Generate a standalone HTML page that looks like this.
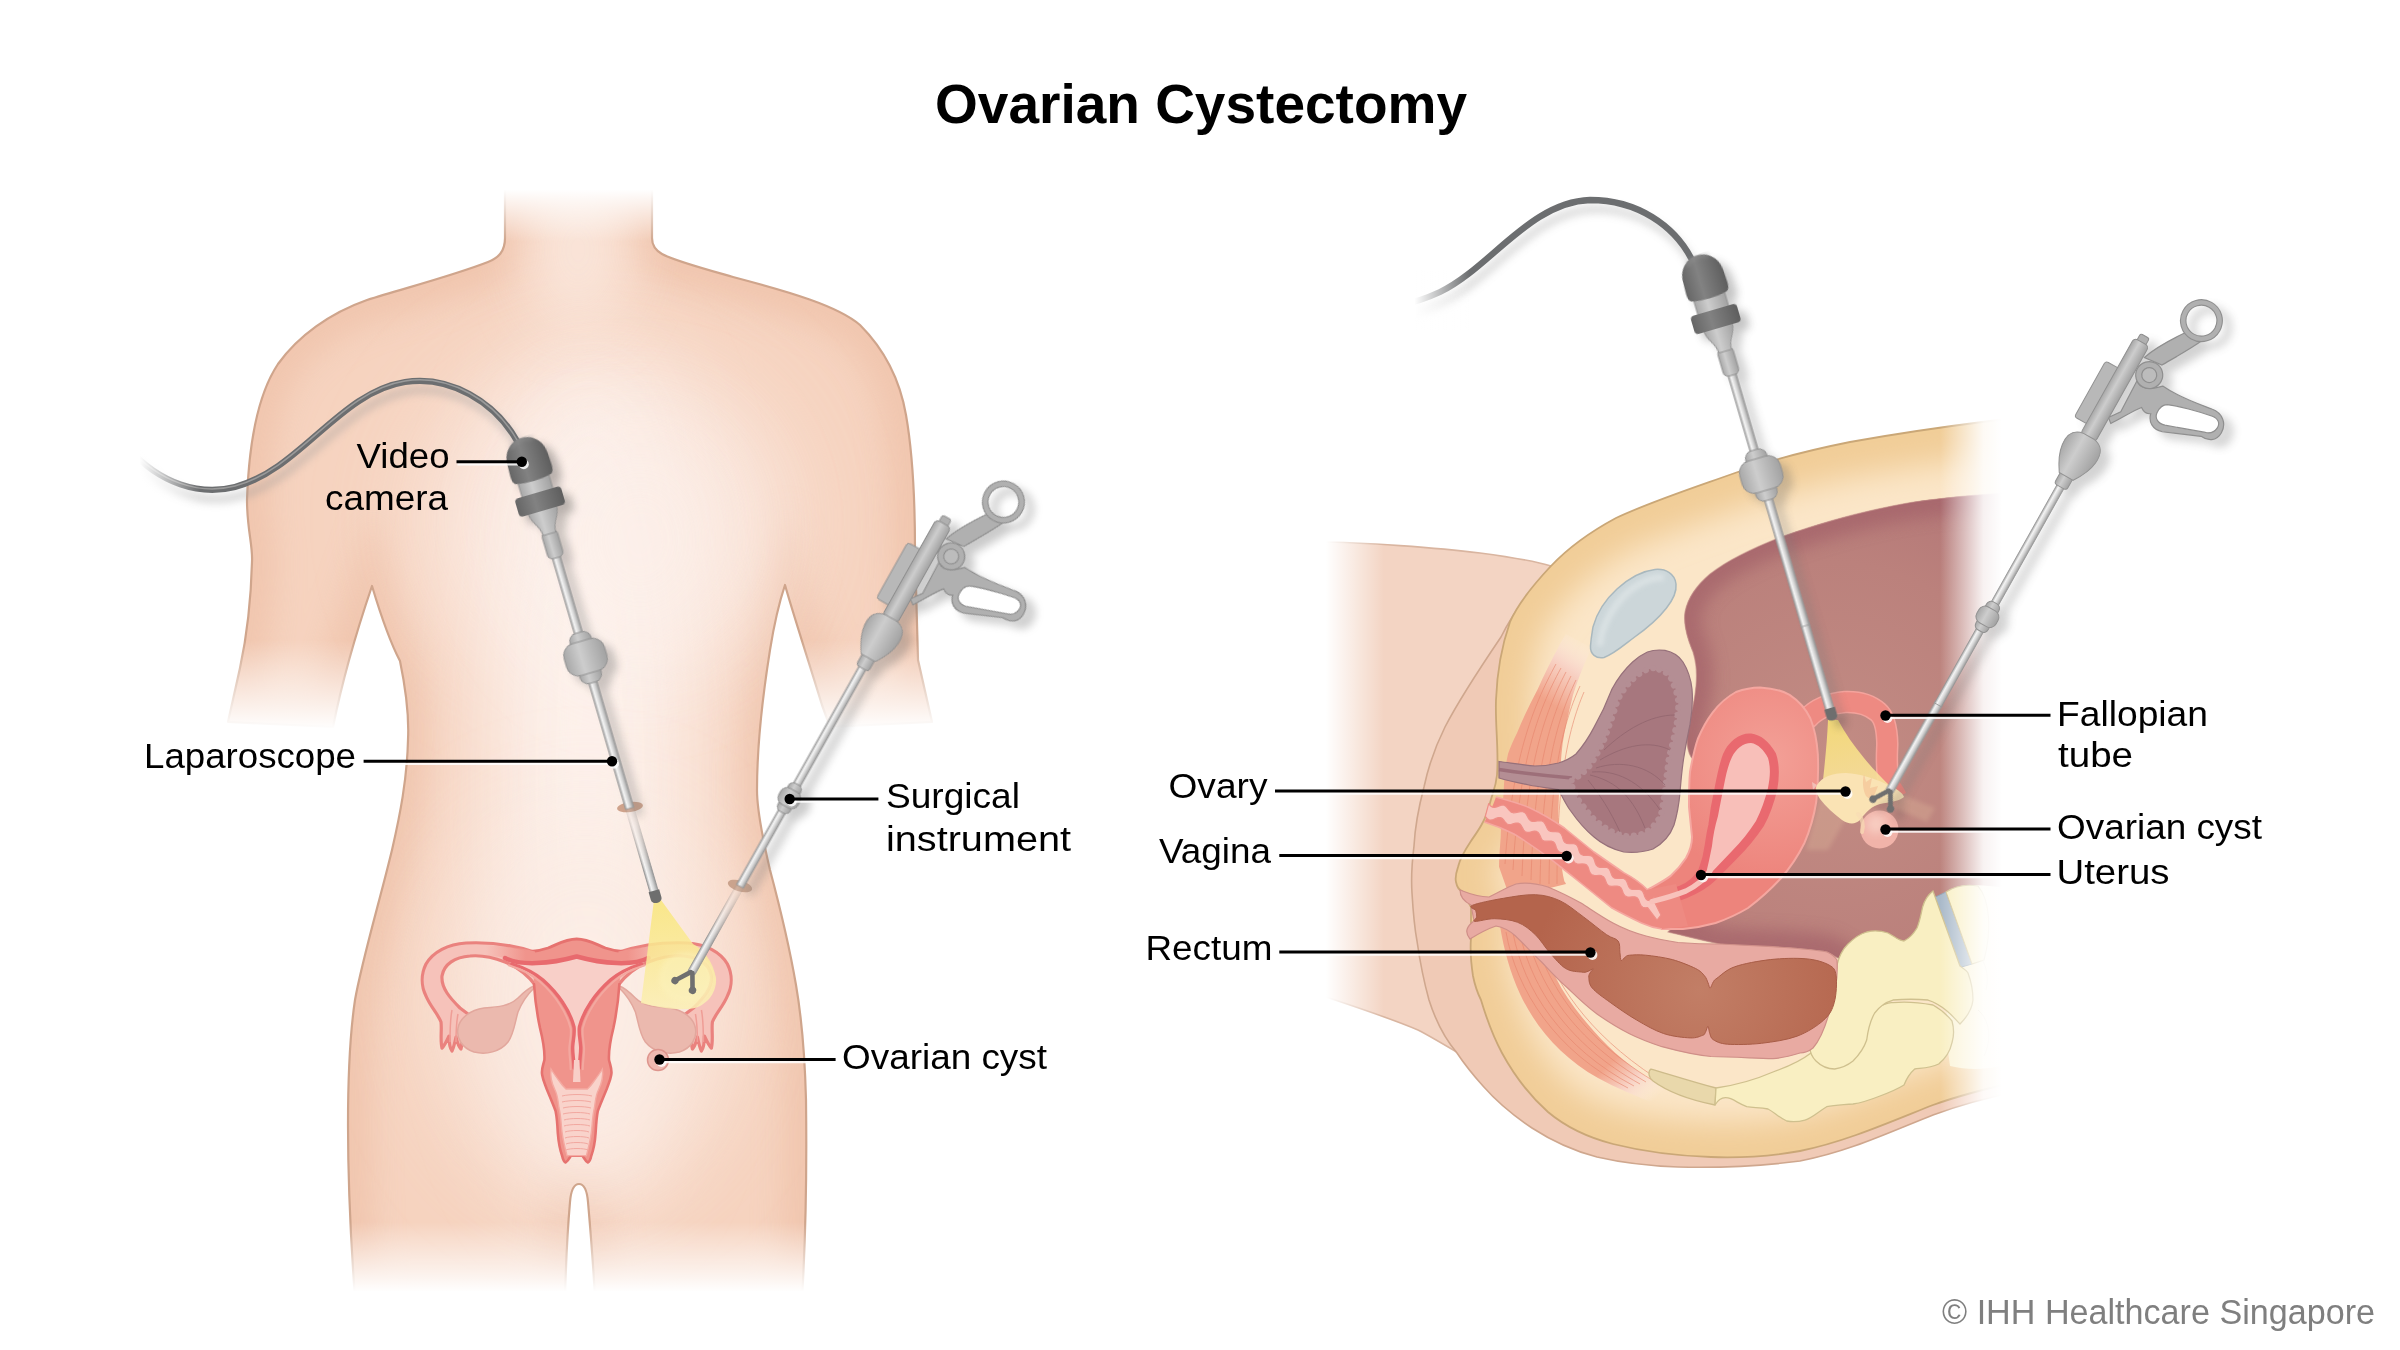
<!DOCTYPE html>
<html><head><meta charset="utf-8"><title>Ovarian Cystectomy</title>
<style>
html,body{margin:0;padding:0;background:#fff;}
body{width:2400px;height:1350px;overflow:hidden;font-family:"Liberation Sans",sans-serif;}
svg{display:block}
text{font-family:"Liberation Sans",sans-serif;}
</style></head><body>
<svg width="2400" height="1350" viewBox="0 0 2400 1350">
<defs>
  <filter id="b2" x="-20%" y="-20%" width="140%" height="140%"><feGaussianBlur stdDeviation="2"/></filter>
  <filter id="b4" x="-30%" y="-30%" width="160%" height="160%"><feGaussianBlur stdDeviation="4"/></filter>
  <filter id="b8" x="-30%" y="-30%" width="160%" height="160%"><feGaussianBlur stdDeviation="8"/></filter>
  <filter id="b15" x="-40%" y="-40%" width="180%" height="180%"><feGaussianBlur stdDeviation="15"/></filter>
  <filter id="b30" x="-50%" y="-50%" width="200%" height="200%"><feGaussianBlur stdDeviation="30"/></filter>
  <filter id="b50" x="-60%" y="-60%" width="220%" height="220%"><feGaussianBlur stdDeviation="50"/></filter>

  <linearGradient id="shaftG" x1="0" x2="1" y1="0" y2="0">
    <stop offset="0" stop-color="#a6a6a6"/><stop offset="0.3" stop-color="#f4f4f4"/><stop offset="0.6" stop-color="#d6d6d6"/><stop offset="1" stop-color="#9a9a9a"/>
  </linearGradient>
  <linearGradient id="metalG" x1="0" x2="1" y1="0" y2="0">
    <stop offset="0" stop-color="#a8a8a8"/><stop offset="0.4" stop-color="#cdcdcd"/><stop offset="1" stop-color="#a2a2a2"/>
  </linearGradient>
  <linearGradient id="darkG" x1="0" x2="1" y1="0" y2="0">
    <stop offset="0" stop-color="#666"/><stop offset="0.4" stop-color="#828282"/><stop offset="1" stop-color="#5e5e5e"/>
  </linearGradient>
  <linearGradient id="fadeUp" x1="0" x2="0" y1="0" y2="1"><stop offset="0" stop-color="#fff" stop-opacity="1"/><stop offset="1" stop-color="#fff" stop-opacity="0"/></linearGradient>
  <linearGradient id="fadeDown" x1="0" x2="0" y1="0" y2="1"><stop offset="0" stop-color="#fff" stop-opacity="0"/><stop offset="1" stop-color="#fff" stop-opacity="1"/></linearGradient>
  <linearGradient id="fadeL" x1="0" x2="1" y1="0" y2="0"><stop offset="0" stop-color="#fff" stop-opacity="1"/><stop offset="1" stop-color="#fff" stop-opacity="0"/></linearGradient>
  <linearGradient id="fadeR" x1="0" x2="1" y1="0" y2="0"><stop offset="0" stop-color="#fff" stop-opacity="0"/><stop offset="1" stop-color="#fff" stop-opacity="1"/></linearGradient>

  <linearGradient id="lapFadeGrad" x1="0" x2="0" y1="386" y2="450" gradientUnits="userSpaceOnUse"><stop offset="0" stop-color="#fff" stop-opacity="0.12"/><stop offset="1" stop-color="#fff" stop-opacity="1"/></linearGradient>
  <mask id="lapFadeMask" maskUnits="userSpaceOnUse" x="-20" y="380" width="40" height="120"><rect x="-20" y="380" width="40" height="120" fill="url(#lapFadeGrad)"/></mask>
  <linearGradient id="surgFadeGrad" x1="0" x2="0" y1="-96" y2="-35" gradientUnits="userSpaceOnUse"><stop offset="0" stop-color="#fff" stop-opacity="0.12"/><stop offset="1" stop-color="#fff" stop-opacity="1"/></linearGradient>
  <mask id="surgFadeMask" maskUnits="userSpaceOnUse" x="-30" y="-110" width="60" height="150"><rect x="-30" y="-110" width="60" height="150" fill="url(#surgFadeGrad)"/></mask>
  <!-- LAPAROSCOPE local coords: origin = camera top, axis +y -->
  <g id="lapUpper">
    <rect x="-4.2" y="118" width="8.4" height="268" fill="url(#shaftG)" stroke="#969696" stroke-width="0.8"/>
    <!-- trocar -->
    <rect x="-11" y="203" width="22" height="52" rx="8" fill="url(#metalG)" stroke="#929292" stroke-width="1"/>
    <rect x="-21" y="212" width="42" height="33" rx="12" fill="url(#metalG)" stroke="#929292" stroke-width="1"/>
    <!-- connector -->
    <rect x="-8" y="97" width="16" height="28" rx="5" fill="url(#metalG)" stroke="#929292" stroke-width="1"/>
    <!-- funnel -->
    <path d="M-15,72 L15,72 C15,86 7,88 6.5,100 L-6.5,100 C-7,88 -15,86 -15,72 Z" fill="url(#metalG)" stroke="#929292" stroke-width="1"/>
    <!-- light cyl -->
    <rect x="-16" y="34" width="32" height="30" rx="3" fill="url(#metalG)" stroke="#929292" stroke-width="1"/>
    <!-- dark ring -->
    <rect x="-24" y="57" width="48" height="19" rx="4" fill="url(#darkG)"/>
    <!-- dome -->
    <path d="M-18,43 C-21,42 -21.5,38 -21.5,34 L-21,22 C-20,-7 20,-7 21,22 L21.5,34 C21.5,38 21,42 18,43 C8,45.5 -8,45.5 -18,43 Z" fill="url(#darkG)"/><path d="M-13,8 C-8,1 4,-1 11,4" fill="none" stroke="#9a9a9a" stroke-width="3" opacity="0.5" filter="url(#b2)"/>
  </g>
  <g id="lapLower">
    <rect x="-4.2" y="384" width="8.4" height="90" fill="url(#shaftG)" stroke="#969696" stroke-width="0.8"/>
    <path d="M-5.5,472 L5.5,472 L5.5,480 C5.5,486 -5.5,486 -5.5,480 Z" fill="#6e6e6e"/>
  </g>

  <!-- SURGICAL INSTRUMENT local coords: origin = jaw junction, axis -y toward handle -->
  <g id="surgUpper">
    <rect x="-4" y="-352" width="8" height="256" fill="url(#shaftG)" stroke="#969696" stroke-width="0.8"/>
    <!-- small trocar -->
    <rect x="-7" y="-213" width="14" height="32" rx="5" fill="url(#metalG)" stroke="#929292" stroke-width="1"/>
    <rect x="-11" y="-206" width="22" height="18" rx="7" fill="url(#metalG)" stroke="#929292" stroke-width="1"/>
    <!-- plate -->
    <rect x="-22" y="-478" width="17" height="64" rx="3" fill="#b8b8b8" stroke="#929292" stroke-width="1"/>
    <!-- fixed handle body + loop -->
    <path d="M8,-430 L16,-441 L15,-476 C22,-470 30,-474 40,-484 C60,-482 80,-486 94,-488 C106,-490 114,-482 114,-472 C114,-462 106,-458 98,-459 L62,-444 C52,-441 45,-446 43,-454 C40,-452 36,-452 32,-455 C26,-448 20,-436 13,-426 Z" fill="#b0b0b0" stroke="#8f8f8f" stroke-width="1.2"/>
    <path d="M53,-470 C62,-474 84,-479.5 98,-482 C105,-483 108.5,-479 108,-474 C107.5,-469 105,-466 100,-464.5 L61,-451 C54,-449 48.5,-452 48,-458 C47.7,-464 49.5,-468 53,-470 Z" fill="#fff" stroke="#8f8f8f" stroke-width="1.2"/>
    <!-- ring arm -->
    <path d="M10,-500 C14,-512 24,-528 33,-541 L52,-543 C46,-530 36,-514 29,-502 Z" fill="#b0b0b0" stroke="#8f8f8f" stroke-width="1.2"/>
    <circle cx="41.7" cy="-560" r="18.2" fill="none" stroke="#8f8f8f" stroke-width="6.6"/>
    <circle cx="41.7" cy="-560" r="18.2" fill="none" stroke="#b0b0b0" stroke-width="4.4"/>
    <!-- pivot -->
    <circle cx="22.8" cy="-487" r="13.5" fill="#b0b0b0" stroke="#8f8f8f" stroke-width="1.2"/>
    <circle cx="22.8" cy="-487" r="7.5" fill="#bcbcbc" stroke="#8f8f8f" stroke-width="1.2"/>
    <!-- barrel -->
    <rect x="-5" y="-519" width="10" height="10" rx="2" fill="#b0b0b0" stroke="#8f8f8f" stroke-width="1"/>
    <rect x="-8.5" y="-512" width="17" height="110" rx="4" fill="url(#metalG)" stroke="#8f8f8f" stroke-width="1"/>
    <!-- bulb -->
    <rect x="-7" y="-362" width="14" height="16" rx="3" fill="url(#metalG)" stroke="#929292" stroke-width="1"/>
    <path d="M-6,-404 L6,-404 C18,-402 20,-394 19,-384 C18,-374 12,-364 8,-358 L-8,-358 C-12,-364 -18,-374 -19,-384 C-20,-394 -18,-402 -6,-404 Z" fill="url(#metalG)" stroke="#929292" stroke-width="1"/>
  </g>
  <g id="surgLower">
    <rect x="-4" y="-98" width="8" height="101" fill="url(#shaftG)" stroke="#969696" stroke-width="0.8"/>
    <path d="M-1,3 L-10,17" stroke="#6f6f6f" stroke-width="4.6" stroke-linecap="round" fill="none"/>
    <path d="M1,3 L9,17" stroke="#6f6f6f" stroke-width="4.6" stroke-linecap="round" fill="none"/>
    <circle cx="-10.5" cy="18" r="3.7" fill="#6f6f6f"/><circle cx="9.5" cy="18" r="3.7" fill="#6f6f6f"/>
  </g>
</defs>
<!-- ===== LEFT PANEL: body ===== -->
<defs>
  <path id="bodyL" d="M505,185 L505,238 C505,252 498,258 488,262 C452,276 405,288 367,300 C330,313 298,336 278,364 C258,394 249,440 247,500 C247,530 253,545 252,562 C251,600 246,640 240,668 L228,722 L333,727 C340,692 355,636 372,586 C378,606 390,642 400,661 C406,690 409,720 408,740 C407,780 400,815 392,850 C380,900 362,960 355,1000 C349,1040 348,1090 348,1125 C348,1170 350,1230 355,1298 L565,1298 C566,1260 568,1225 570,1202 C571,1190 574,1184 579,1184 C584,1184 587,1190 588,1202 C590,1225 593,1260 595,1298 L802,1298 C805,1250 807,1180 806,1100 C805,1060 802,1020 796,985 C790,950 778,900 770,870 C763,840 757,810 757,790 C757,750 762,700 770,650 C774,625 780,600 785,585 C792,610 805,650 822,705 L830,727 L932,722 L918,660 C917,620 916,580 915,550 C915,500 913,455 906,415 C900,380 885,350 860,325 C838,306 790,292 733,277 C705,269 672,260 662,254 C655,250 652,245 652,238 L652,185 Z"/>
  <clipPath id="bodyLclip"><use href="#bodyL"/></clipPath>
</defs>
<g>
  <use href="#bodyL" fill="#f6d3bf"/>
  <g clip-path="url(#bodyLclip)">
    <use href="#bodyL" fill="none" stroke="#efc2aa" stroke-width="46" filter="url(#b15)" opacity="0.8"/>
    <ellipse cx="605" cy="520" rx="190" ry="170" fill="#fbeae2" filter="url(#b50)" opacity="0.8"/>
    <ellipse cx="590" cy="780" rx="105" ry="430" fill="#fdf3ee" filter="url(#b50)" opacity="0.95"/>
    <ellipse cx="640" cy="540" rx="100" ry="120" fill="#fcefe9" filter="url(#b50)" opacity="0.6"/>
    <ellipse cx="578" cy="250" rx="50" ry="80" fill="#fbeae1" filter="url(#b30)" opacity="0.8"/>
    <ellipse cx="585" cy="1000" rx="150" ry="190" fill="#fbebe3" filter="url(#b50)" opacity="0.7"/>
  </g>
  <use href="#bodyL" fill="none" stroke="#cfa58c" stroke-width="2.2" stroke-linejoin="round"/>
  <!-- fades -->
  <rect x="480" y="170" width="200" height="20" fill="#fff"/><rect x="480" y="189.5" width="200" height="52" fill="url(#fadeUp)"/>
  <rect x="200" y="640" width="190" height="90" fill="url(#fadeDown)"/>
  <rect x="790" y="640" width="170" height="90" fill="url(#fadeDown)"/>
  <rect x="330" y="1222" width="500" height="70" fill="url(#fadeDown)"/><rect x="330" y="1291.5" width="500" height="12" fill="#fff"/>
</g>
<!-- ===== LEFT PANEL: uterus front view ===== -->
<defs>
  <linearGradient id="cornuG" x1="486" x2="526" y1="0" y2="0" gradientUnits="userSpaceOnUse"><stop offset="0" stop-color="#f0948c" stop-opacity="0"/><stop offset="1" stop-color="#f0948c" stop-opacity="1"/></linearGradient>
  <linearGradient id="coneL" x1="657" y1="900" x2="675" y2="1008" gradientUnits="userSpaceOnUse"><stop offset="0" stop-color="#f9e67c"/><stop offset="0.5" stop-color="#faea96"/><stop offset="1" stop-color="#fbefb4"/></linearGradient>
  <g id="tubeL">
    <path d="M536,986 C530,978 520,968 505,962 C492,957 480,955 470,956 C455,957 444,964 442,976 C441,988 450,998 460,1008 L468,1014 C466,1020 462,1028 462,1036 C462,1042 462,1046 461,1049 C458,1046 457,1041 456,1037 C455,1042 454,1047 452,1051 C449,1047 449,1041 449,1036 C447,1040 445,1045 442,1048 C440,1040 442,1030 441,1022 C438,1014 430,1006 426,996 C421,986 421,974 426,964 C433,952 448,944 466,943 C486,942 510,944 534,952 Z" fill="#f6c2ba" stroke="#ea827e" stroke-width="3.2" stroke-linejoin="round"/>
    <path d="M452,1010 C450,1020 450,1032 450,1042 M458,1014 C456,1024 456,1034 456,1042" fill="none" stroke="#ef9d96" stroke-width="1.5"/>
    <!-- ovary -->
    <path d="M534,988 C528,994 522,1002 518,1012 C515,1022 514,1034 508,1042 C500,1052 486,1055 474,1052 C462,1048 456,1038 458,1028 C460,1018 470,1010 484,1008 C498,1007 510,1006 518,998 C524,992 528,988 534,986 Z" fill="#ebb9ae" stroke="#e2a79d" stroke-width="1.5"/>
  </g>
</defs>
<g>
  <use href="#tubeL"/>
  <use href="#tubeL" transform="translate(1153.4,0) scale(-1,1)"/>
  <!-- cyst -->
  <circle cx="658" cy="1060" r="10.5" fill="#efb9b0" stroke="#de968e" stroke-width="1.5"/>
  <!-- uterus body -->
  <path d="M576.7,939 C566,939 558,944 548,948 C542,950 537,951 533,952 L534,986 C535,1000 537,1014 540,1028 C543,1040 545,1050 544.4,1060 C543,1066 541,1070 542.2,1075 C543,1080 545,1084 546.7,1089 C550,1097 553,1104 555.6,1111 C557,1118 557.5,1126 557.8,1133 C558.5,1142 560,1150 562.2,1156 C563,1160 564.5,1162 565.6,1162.5 C568,1161 569.5,1158 571,1155.6 L582.4,1155.6 C584,1158 585.5,1161 587.8,1162.5 C589,1162 590.4,1160 591.2,1156 C593.4,1150 595,1142 595.6,1133 C596,1126 596.4,1118 597.8,1111 C600.4,1104 603.4,1097 606.7,1089 C608.4,1084 610.4,1080 611.2,1075 C612.4,1070 610.4,1066 609,1060 C608.4,1050 610.4,1040 613.4,1028 C616.4,1014 618.4,1000 619.4,986 L620.4,952 C616.4,951 611.4,950 605.4,948 C595.4,944 587.4,939 576.7,939 Z" fill="#f0948c"/>
  <path d="M531,951.5 C537,951 542,950 548,948 C558,944 566,939 576.7,939 C587.4,939 595.4,944 605.4,948 C611.4,950 616.4,951 622.4,951.5" fill="none" stroke="#e6726f" stroke-width="2.8" stroke-linecap="round"/>
  <path d="M534,984 C535,1000 537,1014 540,1028 C543,1040 545,1050 544.4,1060 C543,1066 541,1070 542.2,1075 C543,1080 545,1084 546.7,1089 C550,1097 553,1104 555.6,1111 C557,1118 557.5,1126 557.8,1133 C558.5,1142 560,1150 562.2,1156 C563,1160 564.5,1162 565.6,1162.5 C568,1161 569.5,1158 571,1155.6 L582.4,1155.6 C584,1158 585.5,1161 587.8,1162.5 C589,1162 590.4,1160 591.2,1156 C593.4,1150 595,1142 595.6,1133 C596,1126 596.4,1118 597.8,1111 C600.4,1104 603.4,1097 606.7,1089 C608.4,1084 610.4,1080 611.2,1075 C612.4,1070 610.4,1066 609,1060 C608.4,1050 610.4,1040 613.4,1028 C616.4,1014 618.4,1000 619.4,984" fill="none" stroke="#e6726f" stroke-width="2.6" stroke-linejoin="round" stroke-linecap="round"/>
  <g id="cornuL">
    <path d="M535,951.5 L535,964 C522,961 505,957 486,955.5 L484,945.5 C504,945.5 522,948.5 535,951.5 Z" fill="url(#cornuG)"/>
  </g>
  <use href="#cornuL" transform="translate(1153.4,0) scale(-1,1)"/>
  <!-- cavity -->
  <path d="M512,964 C525,968 536,974 543,980 C552,988 558,995 563,1003 C569,1012 572,1019 574,1027 C575,1034 573,1040 572.7,1047 C572.5,1054 574,1060 574,1068 L579.4,1068 C579.4,1060 580.9,1054 580.7,1047 C580.4,1040 578.4,1034 579.4,1027 C581.4,1019 584.4,1012 590.4,1003 C595.4,995 601.4,988 610.4,980 C617.4,974 628.4,968 641.4,964 C620,966 600,958 576.7,957 C553,958 533,966 512,964 Z" fill="#f8cfc8"/>
  <!-- endometrium dark lines -->
  <path d="M505,958 C520,966 550,964 576.7,956.5 C603.4,964 633.4,966 648.4,958" fill="none" stroke="#e86a6e" stroke-width="4.5" stroke-linecap="round"/>
  <path d="M512,964 C525,968 536,974 543,980 C552,988 558,995 563,1003 C569,1012 572,1019 574,1027 C575,1034 573,1040 572.7,1047 C572.5,1054 574,1060 574,1068" fill="none" stroke="#e86a6e" stroke-width="3.4" stroke-linecap="round"/>
  <path d="M641.4,964 C628.4,968 617.4,974 610.4,980 C601.4,988 595.4,995 590.4,1003 C584.4,1012 581.4,1019 579.4,1027 C578.4,1034 580.4,1040 580.7,1047 C580.9,1054 579.4,1060 579.4,1068" fill="none" stroke="#e86a6e" stroke-width="3.4" stroke-linecap="round"/>
  <path d="M512,964 C525,968 536,974 543,980 C552,988 558,995 563,1003 C569,1012 572,1019 574,1027 C575,1034 573,1040 572.7,1047 C572.5,1054 574,1060 574,1068" fill="none" stroke="#f3a8a0" stroke-width="2" stroke-linecap="round" transform="translate(-3.4,1.2)"/>
  <path d="M641.4,964 C628.4,968 617.4,974 610.4,980 C601.4,988 595.4,995 590.4,1003 C584.4,1012 581.4,1019 579.4,1027 C578.4,1034 580.4,1040 580.7,1047 C580.9,1054 579.4,1060 579.4,1068" fill="none" stroke="#f3a8a0" stroke-width="2" stroke-linecap="round" transform="translate(3.4,1.2)"/>
  <!-- cervical canal -->
  <path d="M574,1060 L579.4,1060 L580.5,1082 L573,1082 Z" fill="#f8cfc8"/>
  <!-- vagina -->
  <path d="M551,1069 C554,1074 557,1078 560,1082 C562,1085 564,1087 566,1089 L587.4,1089 C589.4,1087 591.4,1085 593.4,1082 C596.4,1078 599.4,1074 602.4,1069 C603.4,1076 601.4,1084 598.4,1090 C595.4,1096 595.4,1102 594.4,1108 C592.4,1116 592.4,1124 591.4,1132 C590.4,1140 588.4,1148 586.4,1155.6 L567,1155.6 C565,1148 563,1140 562,1132 C561,1124 561,1116 559,1108 C558,1102 558,1096 555,1090 C552,1084 550,1076 551,1069 Z" fill="#f9d3cb" stroke="#f4aaa2" stroke-width="1.4"/>
  <g fill="none" stroke="#f2a8a0" stroke-width="1">
    <path d="M562,1096 C570,1094 584,1094 592,1096"/><path d="M562,1102 C570,1100 584,1100 591,1102"/><path d="M563,1108 C570,1106 584,1106 591,1108"/><path d="M563,1114 C570,1112 584,1112 590,1114"/><path d="M564,1120 C570,1118 584,1118 590,1120"/><path d="M564,1126 C570,1124 584,1124 590,1126"/><path d="M565,1132 C570,1130 584,1130 589,1132"/><path d="M565,1138 C570,1136 584,1136 589,1138"/><path d="M566,1144 C570,1142 584,1142 588,1144"/><path d="M566,1150 C570,1148 584,1148 588,1150"/>
  </g>
  <!-- light cone -->
  <path d="M654,900 L661,900 L693,944 C704,950 713,962 716,978 C717,992 708,1004 695,1008 C680,1011 660,1008 641,1003 Z" fill="url(#coneL)" opacity="0.86"/>
  <ellipse cx="686" cy="977" rx="27" ry="25" fill="#fcf3bd" opacity="0.45" filter="url(#b2)"/>
</g>
<!-- ===== LEFT PANEL: instruments ===== -->
<g>
  <!-- cable shadow + cable -->
  <path d="M517,441 C495,402 450,375 405,382 C340,392 300,470 235,487 C200,496 160,484 128,448" fill="none" stroke="#9a9a9a" stroke-width="7" opacity="0.45" filter="url(#b4)" transform="translate(4,9)"/>
  <path d="M517,441 C495,402 450,375 405,382 C340,392 300,470 235,487 C200,496 160,484 128,448" fill="none" stroke="#6c6e70" stroke-width="6.3" stroke-linecap="round"/>
  <path d="M517,441 C495,402 450,375 405,382 C340,392 300,470 235,487 C200,496 160,484 128,448" fill="none" stroke="#9a9a9a" stroke-width="1.5" stroke-linecap="round" transform="translate(0,-1)"/>
  <rect x="110" y="420" width="30" height="100" fill="#fff"/><rect x="139.5" y="420" width="60" height="100" fill="url(#fadeL)"/>
  <!-- skin entry marks -->
  <ellipse cx="630" cy="807" rx="13" ry="5" fill="#cfa38c" transform="rotate(-8 630 807)"/>
  <ellipse cx="740" cy="886" rx="12.5" ry="5.5" fill="#caa38d" transform="rotate(16 740 886)"/>
  <!-- shadows -->
  <g opacity="0.35" filter="url(#b4)" transform="translate(9,7)">
    <use href="#lapUpper" transform="translate(521.4,437.8) rotate(-16.3)" style="filter:grayscale(1) brightness(0.6)"/>
    <use href="#surgUpper" transform="translate(693,970) rotate(29.3)" style="filter:grayscale(1) brightness(0.6)"/>
  </g>
  <g transform="translate(521.4,437.8) rotate(-16.3)"><g mask="url(#lapFadeMask)"><use href="#lapLower"/></g></g>
  <use href="#lapUpper" transform="translate(521.4,437.8) rotate(-16.3)"/>
  <g transform="translate(693,970) rotate(29.3)"><g mask="url(#surgFadeMask)"><use href="#surgLower"/></g></g>
  <use href="#surgUpper" transform="translate(693,970) rotate(29.3)"/>
</g>
<!-- ===== RIGHT PANEL: body cross-section ===== -->
<defs>
  <path id="fatR" d="M2020,418 L1990,421 C1950,426 1900,433 1850,442 C1800,452 1765,462 1735,473 C1690,489 1650,502 1616,518 C1590,532 1568,548 1551,566 C1535,583 1518,603 1510,622 C1502,645 1497,672 1496,700 C1495,725 1499,750 1497,775 C1496,785 1494,790 1492,796 C1489,806 1487,815 1483,822 C1479,830 1475,835 1471,841 C1465,850 1460,858 1458,867 C1456,873 1455,878 1456,882 C1457,887 1459,890 1462,891 L1471,907 L1471,938 C1470,950 1471,963 1473,976 C1475,986 1478,994 1481,1000 C1487,1020 1494,1038 1502,1053 C1514,1075 1530,1096 1548,1112 C1567,1128 1590,1138 1613,1144 C1645,1152 1680,1156 1711,1157 C1740,1158 1772,1156 1800,1151 C1845,1142 1890,1122 1933,1105 C1955,1097 1980,1090 2020,1081 Z"/>
  <clipPath id="fatRclip"><use href="#fatR"/></clipPath>
  <clipPath id="cavRclip"><use href="#cavR"/></clipPath>
  <path id="cavR" d="M2020,492 L1990,494 C1950,497 1920,500 1892,506 C1852,514 1815,525 1785,535.5 C1755,547 1728,560 1710,574 C1697,585 1688,597 1685,612 C1683,625 1688,640 1693,652 C1697,665 1697,675 1696,686 C1695,700 1691,714 1688,728 C1686,740 1687,750 1691,757 L1730,800 L1700,900 L1668,932 C1685,936 1700,940 1720,944 C1740,946 1755,946 1773,947 C1792,948 1812,949 1827,952 L1845,962 L1960,1010 L2020,1000 Z"/>
  <linearGradient id="thighFade" x1="1326" x2="1384" y1="0" y2="0" gradientUnits="userSpaceOnUse"><stop offset="0" stop-color="#fff" stop-opacity="1"/><stop offset="1" stop-color="#fff" stop-opacity="0"/></linearGradient>
  <linearGradient id="rightFade" x1="1940" x2="2002" y1="0" y2="0" gradientUnits="userSpaceOnUse"><stop offset="0" stop-color="#fff" stop-opacity="0"/><stop offset="0.35" stop-color="#fff" stop-opacity="0.45"/><stop offset="0.7" stop-color="#fff" stop-opacity="0.9"/><stop offset="1" stop-color="#fff" stop-opacity="1"/></linearGradient>
  <radialGradient id="cavG" cx="1830" cy="760" r="330" gradientUnits="userSpaceOnUse"><stop offset="0" stop-color="#c28c84"/><stop offset="0.6" stop-color="#bb817c"/><stop offset="1" stop-color="#b17476"/></radialGradient>
</defs>
<g>
  <!-- thigh -->
  <path d="M1320,542 C1360,542 1440,548 1480,553 C1510,557 1535,561 1551,566 L1560,800 L1470,1060 C1450,1048 1430,1036 1418,1030 C1390,1018 1350,1005 1320,995 Z" fill="#f3d4c3" stroke="#d9b5a0" stroke-width="1.6"/>
  
  <!-- pelvis skin -->
  <path d="M1551,566 C1530,590 1512,615 1501,637 C1480,668 1460,698 1445,727 C1435,747 1428,768 1424,787 C1419,806 1415,826 1414,846 C1412,862 1411,878 1412,893 C1413,910 1414,925 1417,941 C1420,962 1424,982 1429,1000 C1436,1022 1446,1040 1457,1053 C1465,1065 1474,1076 1483,1086 C1497,1102 1514,1116 1532,1128 C1552,1141 1574,1151 1597,1157 C1623,1163 1650,1166 1678,1167 C1720,1168 1762,1166 1800,1161 C1848,1152 1890,1132 1933,1115 C1960,1105 1985,1098 2020,1091 L2020,600 Z" fill="#f0cab6" stroke="#cfa78e" stroke-width="1.6"/>
  <!-- fat layer -->
  <use href="#fatR" fill="#fbe6c8"/>
  <g clip-path="url(#fatRclip)">
    <use href="#fatR" fill="none" stroke="#f1cd98" stroke-width="70" filter="url(#b15)"/>
  </g>
  <use href="#fatR" fill="none" stroke="#caa777" stroke-width="1.8"/>
  <!-- cavity -->
  <use href="#cavR" fill="url(#cavG)"/>
  <g clip-path="url(#cavRclip)"><use href="#cavR" fill="none" stroke="#a4646a" stroke-width="34" filter="url(#b8)" opacity="0.75"/></g>
  <use href="#cavR" fill="none" stroke="#c7928c" stroke-width="1.2" opacity="0.6"/>
</g>
<!-- ===== RIGHT PANEL: organs ===== -->
<defs>
  <linearGradient id="muscTop" x1="1545" y1="700" x2="1585" y2="640" gradientUnits="userSpaceOnUse"><stop offset="0" stop-color="#f1a48a"/><stop offset="0.55" stop-color="#f8d3c6"/><stop offset="1" stop-color="#fdf0e6" stop-opacity="0"/></linearGradient>
  <linearGradient id="muscBot" x1="1622" y1="1052" x2="1660" y2="1094" gradientUnits="userSpaceOnUse"><stop offset="0" stop-color="#f1a48a"/><stop offset="0.5" stop-color="#f8d3c6"/><stop offset="1" stop-color="#fdf0e6" stop-opacity="0"/></linearGradient>
  <radialGradient id="rectG" cx="1700" cy="990" r="170" gradientUnits="userSpaceOnUse"><stop offset="0" stop-color="#c27e66"/><stop offset="1" stop-color="#b4644c"/></radialGradient>
  <radialGradient id="uterG" cx="1770" cy="760" r="120" gradientUnits="userSpaceOnUse"><stop offset="0" stop-color="#f3a097"/><stop offset="1" stop-color="#ed847c"/></radialGradient>
</defs>
<g>
  <!-- muscle upper (pubic -> perineum) -->
  <path d="M1566,634 C1562,640 1560,644 1558.5,647 C1551,661 1544,675 1537.8,689 C1530,704 1523,718 1517,733 C1513,741 1510,748 1508,754 C1505,767 1504,780 1503.7,792.6 C1502,807 1501,822 1500.7,837 C1500,847 1499,857 1499,866.7 L1510,898 L1566,884 C1565,882 1565,882 1564.4,881.5 C1562,872 1561,862 1561.5,852 C1559,837 1558,822 1558.5,807.4 C1559,790 1560,772 1561.5,754 C1562,747 1563,740 1564.4,733 C1567,720 1570,707 1573,695 C1577,682 1582,669 1588,656 L1592,648 Z" fill="url(#muscTop)"/>
  <g fill="none" stroke="#e6846c" stroke-width="0.8" opacity="0.75">
    <path d="M1556,664 C1532,708 1512,760 1505,864"/><path d="M1561,668 C1537,712 1519,764 1513,870"/><path d="M1566,672 C1543,716 1526,768 1522,876"/><path d="M1571,676 C1549,720 1534,772 1531,880"/><path d="M1576,680 C1555,724 1542,776 1540,884"/><path d="M1580,686 C1561,728 1550,780 1549,884"/><path d="M1584,692 C1567,732 1557,784 1557,884"/>
  </g>
  <!-- muscle lower (below rectum -> coccyx) -->
  <path d="M1500,926 C1504,950 1510,972 1520,994 C1536,1028 1562,1058 1598,1078 C1616,1088 1636,1096 1656,1104 L1672,1092 C1650,1080 1626,1064 1608,1046 C1588,1026 1568,1002 1556,978 C1550,964 1546,950 1544,938 Z" fill="url(#muscBot)"/>
  <g fill="none" stroke="#e6846c" stroke-width="0.8" opacity="0.75">
    <path d="M1506,932 C1516,990 1556,1052 1628,1088"/><path d="M1513,933 C1524,990 1562,1048 1634,1086"/><path d="M1520,934 C1532,988 1568,1044 1640,1084"/><path d="M1527,935 C1540,986 1574,1040 1646,1082"/><path d="M1534,936 C1548,984 1580,1036 1652,1080"/><path d="M1540,937 C1555,982 1586,1032 1656,1078"/>
  </g>

  <!-- pubic bone -->
  <path d="M1604,657.5 C1596,659 1590,654 1590.5,646 C1591,638 1592,633 1593,627 C1597,612 1606,599 1617,589 C1628,579 1642,571 1655,569.5 C1666,568.5 1675,574 1676,584 C1677,593 1672,601 1666.5,608 C1658,619 1646,629 1634,637.5 C1624,645 1614,654 1604,657.5 Z" fill="#ccd6d9" stroke="#a9b8be" stroke-width="1.5"/>
  <path d="M1600,646 C1600,630 1612,606 1628,592 C1640,582 1654,576 1664,578" fill="none" stroke="#e4eaeb" stroke-width="7" opacity="0.55" filter="url(#b2)"/>
  <!-- sacrum & coccyx -->
  <!-- faint vertebrae beyond (right) -->
  <path d="M1960,886 C1975,884 1995,886 2020,890 L2020,1060 C2000,1068 1975,1072 1950,1066 L1945,1030 Z" fill="#fbf3d6"/>
  <path d="M1975,950 C1985,960 1990,975 1986,990 M1978,1010 C1990,1020 1992,1040 1984,1056" fill="none" stroke="#d9cfac" stroke-width="1" opacity="0.8"/>
  <path d="M1651,1069 C1665,1073 1690,1081 1716,1088 L1715,1105 C1690,1100 1668,1092 1653,1081 C1648,1077 1648,1071 1651,1069 Z" fill="#e9d8ab" stroke="#cdbb8a" stroke-width="1.3"/>
  <!-- lower sacral piece -->
  <path d="M1716,1088 C1730,1086 1750,1082 1773,1072 C1790,1066 1802,1060 1811,1053 L1870,1015 C1880,1004 1890,1002 1893,1002.7 C1908,1001 1922,1003 1933,1005 C1942,1010 1948,1016 1952,1021 C1954,1028 1954,1036 1952,1042.7 C1950,1052 1945,1059 1938.7,1064 C1930,1068 1922,1068 1914.7,1069 C1909,1074 1906,1080 1904,1085 C1896,1090 1888,1093 1880,1096 C1870,1100 1860,1103 1853,1104 C1842,1105 1835,1105 1826.7,1106.7 C1818,1112 1812,1118 1805,1120 C1798,1122 1792,1122 1786.7,1121 C1778,1117 1774,1112 1768,1109 C1760,1107 1754,1108 1746.7,1106.7 C1740,1104 1736,1101 1730.7,1098.7 C1724,1096 1719,1098 1715,1105 Z" fill="#f9efc2" stroke="#cfc08e" stroke-width="1.3"/>
  <!-- disc -->
  <path d="M1929,900 L1946,892 L1972,964 L1958,968 Z" fill="#a9b9c9" stroke="#93a4b5" stroke-width="1"/>
  <!-- vertebra right of disc -->
  <path d="M1946,892 C1955,886 1965,884 1978,886 C1990,900 1992,930 1984,960 L1972,964 Z" fill="#f9efc2" stroke="#cfc08e" stroke-width="1.1"/>
  <!-- upper sacral blob (boot shape) -->
  <path d="M1837,965 C1840,952 1846,946 1848,944 C1854,938 1860,934 1866.7,932 C1874,930 1882,931 1888,933 C1894,936 1899,941 1904,941 C1910,938 1914,933 1917,928 C1920,921 1921,914 1922.7,906.7 C1925,899 1929,894 1933,891 L1960,966 C1964,969 1967,971 1968,973 C1971,981 1973,990 1973,1000 C1972,1009 1967,1017 1960,1024 C1956,1020 1952,1015 1946.7,1010.7 C1941,1006 1935,1002 1928,1000 C1917,999 1905,999 1893,1000 C1886,1002 1879,1007 1874.7,1013 C1870,1021 1868,1030 1866.7,1040 C1864,1048 1859,1055 1853,1061 C1848,1065 1842,1068 1834.7,1069 C1828,1069 1821,1066 1816,1061 C1811,1056 1809,1049 1810.7,1042.7 C1814,1033 1820,1024 1826.7,1016 C1831,1007 1833,998 1834.7,989 C1836,981 1836,973 1837,965 Z" fill="#f9efc2" stroke="#cfc08e" stroke-width="1.3"/>

  <!-- rectum wall -->
  <path d="M1460,890 C1470,894 1480,897 1489,897 C1498,893 1507,887 1516,884 C1527,882 1538,884 1548,887 C1560,892 1570,897 1581,903 C1592,910 1602,917 1613,923 C1624,929 1635,933 1646,936 C1657,939 1668,941 1678,942.5 C1692,943.5 1706,944 1720,944 C1738,945 1756,946 1773,946.7 C1791,948 1810,949 1827,952 C1832,954 1835,957 1837,960 C1838,975 1836,992 1830,1010 C1826,1025 1820,1040 1813,1048 C1808,1052 1804,1053 1800,1053 C1790,1056 1782,1058 1773,1058.7 C1752,1058 1732,1057 1711,1056.5 C1694,1055 1678,1051 1662,1046.7 C1651,1043 1640,1039 1629.5,1033.7 C1618,1028 1607,1021 1597,1014 C1586,1006 1577,997 1567.6,988 C1558,980 1550,971 1541.6,962 C1532,953 1524,944 1515.5,936 C1509,930 1502,927 1496,926 C1487,929 1478,934 1470,939 C1464,932 1467,926 1474,921 L1471,905 C1465,902 1460,898 1460,890 Z" fill="#e8aaa2" stroke="#cf8f88" stroke-width="1.2"/>
  <!-- rectum lumen -->
  <path d="M1472.2,905.4 C1476.8,903.3 1492.9,900.0 1503.4,898.3 C1513.9,896.5 1525.9,894.3 1535.4,894.7 C1544.9,895.1 1552.3,897.2 1560.3,900.9 C1568.3,904.6 1575.7,911.3 1583.5,916.9 C1591.2,922.6 1600.8,930.7 1606.6,934.7 C1612.4,938.7 1615.9,938.0 1618.1,941.0 C1620.4,943.9 1619.4,949.3 1619.9,952.5 C1620.4,955.8 1620.3,959.8 1621.2,960.5 C1622.1,961.3 1623.8,957.9 1625.3,957.0 C1626.7,956.1 1626.3,955.5 1629.7,955.2 C1633.1,954.9 1638.6,954.5 1645.7,955.2 C1652.8,955.9 1664.1,957.4 1672.4,959.6 C1680.7,961.9 1690.2,965.9 1695.6,968.5 C1700.9,971.2 1702.4,973.3 1704.4,975.7 C1706.5,978.0 1707.1,980.7 1708.0,982.8 C1709.0,984.9 1709.3,988.3 1710.1,988.1 C1711.0,988.0 1712.2,983.5 1713.3,981.9 C1714.5,980.3 1713.3,980.8 1716.9,978.3 C1720.5,975.8 1725.8,969.9 1734.7,966.8 C1743.6,963.6 1758.4,961.0 1770.3,959.6 C1782.1,958.3 1796.1,957.9 1805.9,958.8 C1815.7,959.6 1824.0,962.2 1829.0,965.0 C1834.0,967.8 1835.2,969.4 1836.1,975.7 C1837.0,981.9 1836.4,994.9 1834.3,1002.3 C1832.3,1009.8 1829.9,1014.5 1823.7,1020.1 C1817.4,1025.8 1807.4,1032.3 1797.0,1036.2 C1786.6,1040.0 1773.0,1041.9 1761.4,1043.3 C1749.8,1044.6 1735.6,1044.8 1727.6,1044.2 C1719.6,1043.6 1716.3,1041.5 1713.3,1039.7 C1710.4,1037.9 1710.7,1035.7 1709.8,1033.5 C1708.9,1031.3 1708.7,1026.5 1708.0,1026.4 C1707.3,1026.2 1706.2,1031.1 1705.3,1032.6 C1704.4,1034.1 1705.2,1034.4 1702.7,1035.3 C1700.1,1036.2 1696.7,1038.2 1690.2,1037.9 C1683.7,1037.6 1672.4,1036.5 1663.5,1033.5 C1654.6,1030.5 1645.7,1025.3 1636.8,1020.1 C1627.9,1015.0 1617.6,1007.7 1610.1,1002.3 C1602.7,997.0 1595.9,992.3 1592.3,988.1 C1588.8,984.0 1589.1,980.1 1588.8,977.4 C1588.5,974.8 1589.8,973.5 1590.6,972.1 C1591.3,970.7 1593.8,969.0 1593.2,968.9 C1592.6,968.8 1588.9,971.2 1587.0,971.7 C1585.1,972.3 1585.2,972.6 1581.7,972.1 C1578.1,971.6 1571.0,971.8 1565.7,968.5 C1560.3,965.3 1554.7,958.2 1549.6,952.5 C1544.6,946.9 1540.7,939.8 1535.4,934.7 C1530.1,929.7 1524.4,924.9 1517.6,922.3 C1510.8,919.6 1501.6,918.9 1494.5,918.7 C1487.4,918.6 1477.9,921.7 1474.9,921.4 C1471.9,921.1 1476.5,918.7 1476.7,916.9 C1476.8,915.2 1476.5,912.6 1475.8,910.7 C1475.1,908.8 1467.6,907.4 1472.2,905.4 Z" fill="url(#rectG)" stroke="#a85c46" stroke-width="1"/>

  <!-- urethra + bladder wall -->
  <path d="M1665,650.4 C1673,652 1679,656 1683,662 C1688,670 1691,680 1692,689 C1693,701 1692,713 1690,724.4 C1688,734 1686,744 1684.4,754 C1682,767 1681,780 1680,792.6 C1679,804 1677,815 1674,825 C1670,836 1662,844 1653,849 C1644,852 1634,853 1623.7,852 C1612,849 1602,844 1594,837 C1584,829 1577,820 1570,810 C1565,803 1562,796 1558.5,789.6 C1549,788 1539,787 1529,785 C1519,783 1509,781 1499,778 L1499,761.5 C1511,763 1523,765 1535,766 C1543,766 1551,765 1558.5,763 C1565,761 1571,758 1576,754 C1583,746 1589,737 1594,727.4 C1601,715 1607,702 1612,689 C1618,678 1625,669 1632.6,662 C1638,657 1643,654 1647.4,652 C1653,650 1659,649.6 1665,650.4 Z" fill="#b48e94" stroke="#96707a" stroke-width="1.2"/>
  <path d="M1499,769.5 C1515,772 1535,775 1572,778" fill="none" stroke="#9a6c75" stroke-width="3.5" opacity="0.9"/>
  <!-- bladder lumen -->
  <path d="M1659,669.6 C1663,672 1665,671 1668,675 C1672,678 1672,682 1674,686 C1677,690 1676,695 1678,700 C1679,706 1677,712 1677,718.5 C1677,724 1675,730 1674,736 C1673,742 1671,748 1669.6,754 C1668,760 1668,766 1667,772 C1666,778 1666,784 1665,789.6 C1664,796 1663,802 1662,808 C1662,812 1660,816 1659,819 C1655,822 1654,827 1650,829 C1647,832 1644,832 1641.5,834 C1636,836 1632,835 1628,836 C1624,836 1621,834 1617.8,834 C1612,832 1609,830 1606,828 C1602,826 1598,822 1594,819 C1590,815 1587,811 1584,807 C1581,803 1578,800 1576,795.6 C1574,791 1572,786 1570.4,781 C1576,779 1582,774 1588,768 C1593,762 1597,755 1600,748 C1603,744 1604,740 1606,736 C1608,728 1611,722 1613,715 C1615,710 1616,705 1617.8,700.7 C1620,695 1623,691 1626,687 C1629,683 1632,680 1635.6,677 C1640,673 1645,670 1650,669 C1653,668 1656,668 1659,669.6 Z" fill="#a7777e"/>
  <path d="M1659,669.6 C1663,672 1665,671 1668,675 C1672,678 1672,682 1674,686 C1677,690 1676,695 1678,700 C1679,706 1677,712 1677,718.5 C1677,724 1675,730 1674,736 C1673,742 1671,748 1669.6,754 C1668,760 1668,766 1667,772 C1666,778 1666,784 1665,789.6 C1664,796 1663,802 1662,808 C1662,812 1660,816 1659,819 C1655,822 1654,827 1650,829 C1647,832 1644,832 1641.5,834 C1636,836 1632,835 1628,836 C1624,836 1621,834 1617.8,834 C1612,832 1609,830 1606,828 C1602,826 1598,822 1594,819 C1590,815 1587,811 1584,807 C1581,803 1578,800 1576,795.6 C1574,791 1572,786 1570.4,781 C1576,779 1582,774 1588,768 C1593,762 1597,755 1600,748 C1603,744 1604,740 1606,736 C1608,728 1611,722 1613,715 C1615,710 1616,705 1617.8,700.7 C1620,695 1623,691 1626,687 C1629,683 1632,680 1635.6,677 C1640,673 1645,670 1650,669 C1653,668 1656,668 1659,669.6 Z" fill="none" stroke="#b48e94" stroke-width="6" stroke-dasharray="0.1 7.5" stroke-linecap="round"/>
  <g fill="none" stroke="#8f636c" stroke-width="0.9" opacity="0.8">
    <path d="M1590,775 C1610,780 1630,790 1645,828"/><path d="M1592,772 C1615,770 1640,780 1660,810"/><path d="M1596,768 C1620,760 1648,765 1665,785"/><path d="M1600,760 C1625,745 1650,740 1670,750"/><path d="M1604,750 C1625,730 1650,715 1675,715"/><path d="M1588,780 C1600,795 1610,810 1620,832"/>
  </g>

  <!-- fallopian tube (behind light cone) -->
  <path d="M1808,718 C1816,709 1830,703 1845,702 C1858,701.5 1870,705 1878,712 C1885,718 1887,730 1887.3,744 C1887,754 1886,762 1888,778" fill="none" stroke="#f4a39c" stroke-width="22.5" stroke-linecap="round"/>
  <path d="M1808,718 C1816,709 1830,703 1845,702 C1858,701.5 1870,705 1878,712 C1885,718 1887,730 1887.3,744 C1887,754 1886,762 1888,778" fill="none" stroke="#ee8a82" stroke-width="19.5" stroke-linecap="round"/>
  <path d="M1896,778 C1900,782 1904,788 1906,793 L1897,797 C1894,791 1891,787 1888,785 Z" fill="#eb7f78"/>
  <!-- uterus -->
  <path d="M1760,687.4 C1771,688 1781,690 1789.6,694.8 C1799,701 1806,709 1810.4,718.5 C1815,730 1817,742 1817.8,754 C1818.5,770 1818,786 1816.3,801.5 C1814,816 1810,830 1804.4,843 C1798,856 1790,868 1780.7,878.5 C1771,889 1760,899 1748,908 C1738,914 1727,919 1715.6,923 C1705,926 1694,928 1683,928.9 C1676,929 1669,929 1662,929 L1647.4,889.8 C1656,885 1664,881 1671,875.6 C1677,870 1682,864 1686,858 C1690,851 1692,844 1692,837 C1691,827 1690,817 1689,807 C1689,795 1689,783 1690,772 C1692,761 1694,750 1697.8,739 C1702,729 1707,720 1712.6,712.6 C1719,704 1727,697 1736,692 C1744,689 1752,687.4 1760,687.4 Z" fill="url(#uterG)" stroke="#f5a7a0" stroke-width="2"/>
  <!-- endometrium ring + cavity -->
  <path d="M1751,734.8 C1761,736 1769,744 1774.8,754 C1779,766 1778,778 1776,789.6 C1773,802 1769,814 1763,825 C1755,837 1746,848 1736,857.8 C1729,865 1722,872 1715,879 C1708,886 1698,892 1686,897 C1676,901 1664,904 1654,907 L1651,897 C1660,894 1670,891 1680,887 C1689,883 1696,877 1700,869 C1703,861 1705,853 1706,845 C1707,838 1708,831 1709.6,825 C1711,813 1713,801 1715.6,789.6 C1718,777 1720,765 1724.4,754 C1729,744 1739,734 1751,734.8 Z" fill="#e9696f" stroke="#e9696f" stroke-width="2.5" stroke-linejoin="round"/>
  <path d="M1751,743 C1758,744 1764,750 1768,758 C1771,768 1770,778 1768,788 C1765,800 1761,811 1756,821 C1749,832 1741,842 1732,851 C1725,858 1718,866 1711,873 L1705,877 C1708,866 1710,856 1712,846 C1713,836 1715,826 1718,816 C1720,805 1722,795 1724,785 C1726,775 1728,765 1732,757 C1736,749 1743,743 1751,743 Z" fill="#f8bfb9"/>
  <!-- vagina walls (drawn over cervix) -->
  <path d="M1496,797 C1507,800 1518,803 1529,807.4 C1541,813 1553,820 1564.4,828 C1574,836 1584,844 1594,852 C1604,859 1614,866 1623.7,872.6 C1632,877 1640,882 1647.4,889.8 L1676,884 L1688,926 L1662,929 C1655,928 1648,926 1641.5,923 C1631,918 1621,913 1612,908 C1602,900 1592,892 1582,884 C1572,876 1562,868 1552.6,860.7 C1540,851 1527,842 1514,834 C1504,829 1494,825 1484.4,822 C1489,814 1493,806 1496,797 Z" fill="#ee8a82"/>
  <path d="M1496,797 C1507,800 1518,803 1529,807.4 C1541,813 1553,820 1564.4,828 C1574,836 1584,844 1594,852 C1604,859 1614,866 1623.7,872.6 C1632,877 1640,882 1647.4,889.8" fill="none" stroke="#f5a7a0" stroke-width="1.6"/>
  <path d="M1662,929 C1655,928 1648,926 1641.5,923 C1631,918 1621,913 1612,908 C1602,900 1592,892 1582,884 C1572,876 1562,868 1552.6,860.7 C1540,851 1527,842 1514,834 C1504,829 1494,825 1484.4,822" fill="none" stroke="#f5a7a0" stroke-width="1.6"/>
  <!-- vagina lumen (wavy) -->
  <path d="M1488.7,803.6 L1490.3,805.7 L1492.2,807.1 L1494.3,807.5 L1496.7,806.9 L1499.2,805.9 L1501.6,805.1 L1503.8,805.1 L1505.7,806.2 L1507.5,808.2 L1509.3,810.4 L1511.1,812.1 L1513.2,812.8 L1515.6,812.6 L1518.1,812.1 L1520.6,811.6 L1522.9,811.7 L1524.9,812.7 L1526.5,814.6 L1527.7,816.9 L1528.9,819.1 L1530.4,820.7 L1532.3,821.5 L1534.6,821.4 L1537.1,820.9 L1539.7,820.6 L1542.0,820.9 L1543.8,822.1 L1545.2,824.1 L1546.4,826.4 L1547.4,828.8 L1548.7,830.5 L1550.6,831.5 L1552.9,831.7 L1555.5,831.7 L1557.9,831.8 L1559.8,832.5 L1561.2,834.0 L1562.2,836.2 L1562.9,838.6 L1563.7,840.9 L1565.0,842.5 L1566.8,843.4 L1569.1,843.6 L1571.6,843.6 L1574.0,843.7 L1576.0,844.4 L1577.4,845.9 L1578.3,848.1 L1579.0,850.6 L1579.9,852.9 L1581.3,854.5 L1583.2,855.3 L1585.6,855.5 L1588.2,855.4 L1590.6,855.6 L1592.4,856.5 L1593.7,858.3 L1594.6,860.6 L1595.3,863.1 L1596.3,865.2 L1597.8,866.7 L1599.9,867.3 L1602.3,867.3 L1604.8,867.2 L1607.0,867.5 L1608.8,868.5 L1610.0,870.4 L1610.9,872.7 L1611.8,875.2 L1613.0,877.1 L1614.7,878.2 L1617.0,878.5 L1619.6,878.3 L1622.1,878.2 L1624.2,878.7 L1625.9,880.0 L1627.0,882.1 L1627.9,884.6 L1628.8,886.9 L1630.2,888.6 L1632.2,889.4 L1634.6,889.5 L1637.2,889.3 L1639.6,889.4 L1641.6,890.2 L1643.0,891.9 L1644.0,894.2 L1644.8,896.7 L1645.9,898.8 L1647.5,900.2 L1649.7,900.7 L1652.2,900.7 L1654,897 L1655,903 L1661,915 L1657,920 L1647.6,907.7 L1645.0,907.8 L1642.8,907.3 L1641.2,906.0 L1640.1,903.9 L1639.2,901.4 L1638.2,899.1 L1636.8,897.5 L1634.8,896.8 L1632.3,896.8 L1629.7,897.0 L1627.3,896.9 L1625.3,896.1 L1623.9,894.5 L1622.9,892.2 L1622.0,889.8 L1620.9,887.8 L1619.2,886.5 L1617.0,886.1 L1614.5,886.2 L1611.9,886.4 L1609.6,886.2 L1607.8,885.1 L1606.6,883.2 L1605.6,880.8 L1604.7,878.5 L1603.4,876.7 L1601.5,875.7 L1599.2,875.4 L1596.7,875.5 L1594.1,875.4 L1592.0,874.8 L1590.5,873.4 L1589.4,871.3 L1588.7,868.8 L1587.8,866.6 L1586.5,864.9 L1584.5,864.0 L1582.1,863.9 L1579.5,864.0 L1577.1,863.9 L1575.1,863.1 L1573.8,861.5 L1572.8,859.3 L1572.1,856.8 L1571.1,854.6 L1569.7,853.2 L1567.7,852.5 L1565.3,852.4 L1562.7,852.6 L1560.4,852.4 L1558.6,851.5 L1557.3,849.9 L1556.4,847.7 L1555.6,845.3 L1554.7,843.2 L1553.2,841.7 L1551.3,841.1 L1548.8,841.0 L1546.4,841.2 L1544.2,841.1 L1542.5,840.3 L1541.3,838.7 L1540.5,836.5 L1539.5,834.4 L1538.2,832.5 L1536.6,831.4 L1534.4,831.2 L1532.0,831.7 L1529.5,832.3 L1527.2,832.4 L1525.2,831.7 L1523.7,830.1 L1522.5,827.9 L1521.3,825.7 L1519.9,824.0 L1518.1,823.1 L1515.9,823.1 L1513.6,823.7 L1511.4,824.3 L1509.1,824.7 L1507.2,824.1 L1505.6,822.5 L1504.1,820.5 L1502.5,818.6 L1500.6,817.6 L1498.3,817.6 L1495.9,818.4 L1493.4,819.5 L1491.0,820.1 L1488.9,819.8 L1487.0,818.4 L1485.3,816.4 Z" fill="#f9c6bf" stroke="#ef8f88" stroke-width="1.2" stroke-linejoin="round"/>
  <path d="M1710,871 C1704,880 1696,886 1686,891 C1676,895 1664,898.5 1652,901.5" fill="none" stroke="#f8c2bb" stroke-width="5.2" stroke-linecap="round"/>
</g>
<!-- fades for right panel body (under instruments) -->
<rect x="1300" y="520" width="90" height="520" fill="url(#thighFade)"/>
<rect x="1935" y="400" width="100" height="720" fill="url(#rightFade)"/>
<!-- ===== RIGHT PANEL: ovary, light cone, instruments, fades ===== -->
<defs>
  <linearGradient id="coneR" x1="1832" y1="720" x2="1850" y2="800" gradientUnits="userSpaceOnUse"><stop offset="0" stop-color="#f7df78"/><stop offset="1" stop-color="#f8e0a2"/></linearGradient>
</defs>
<g>
  <!-- faint extended light -->
  <path d="M1822,792 L1806,850 L1828,850 L1848,815 Z" fill="#f0d0a8" opacity="0.22" filter="url(#b2)"/>
  <path d="M1895,792 L1935,808 L1927,822 L1890,806 Z" fill="#f0d0a8" opacity="0.22" filter="url(#b2)"/>
  <!-- light cone -->
  <path d="M1828,720 L1838,720 C1845,733 1854,746 1864,758 C1872,768 1881,777 1890,786 L1822,790 C1824,770 1827,745 1828,720 Z" fill="url(#coneR)" opacity="0.92"/>
  <!-- ovary -->
  <path d="M1817,785 C1822,777 1832,773 1846,773 C1860,774 1874,778 1886,784 C1896,788 1903,793 1904,797 C1900,801 1890,802 1880,804 C1872,806 1866,812 1860,820 C1855,825 1848,824 1842,820 C1834,814 1826,807 1820,799 C1816,793 1815,788 1817,785 Z" fill="#fae3b4"/>
  <path d="M1864,774 L1866,782 L1872,778 L1870,788 L1878,786 L1874,796 L1882,798 C1876,802 1870,800 1866,796 C1863,790 1862,782 1864,774 Z" fill="#f5c99c" opacity="0.85"/>
  <path d="M1817,785 L1812,782 L1813,790 Z" fill="#f3c8c0" opacity="0.8"/>
  <!-- cyst -->
  <circle cx="1879.5" cy="829.5" r="19" fill="#f1b3a9"/>
  <circle cx="1876" cy="824" r="10" fill="#f9d4c8" opacity="0.75" filter="url(#b4)"/>
  <path d="M1858,814 C1862,818 1864,824 1862,832" fill="none" stroke="#f8dcb4" stroke-width="4" opacity="0.7" stroke-linecap="round"/>

  <!-- instruments shadows -->
  <g opacity="0.3" filter="url(#b4)" transform="translate(9,7)">
    <use href="#lapUpper" transform="translate(1697.1,255.2) rotate(-16.3)" style="filter:grayscale(1) brightness(0.6)"/>
    <use href="#lapLower" transform="translate(1697.1,255.2) rotate(-16.3)" style="filter:grayscale(1) brightness(0.6)"/>
    <use href="#surgLower" transform="translate(1891,788.6) rotate(29.3)" style="filter:grayscale(1) brightness(0.6)"/>
    <use href="#surgUpper" transform="translate(1891,788.6) rotate(29.3)" style="filter:grayscale(1) brightness(0.6)"/>
  </g>
  <!-- cable -->
  <path d="M1691,258 C1674,226 1638,200 1590,200 C1530,202 1490,268 1440,292 C1425,299 1412,303 1400,305" fill="none" stroke="#9a9a9a" stroke-width="7" opacity="0.4" filter="url(#b4)" transform="translate(4,9)"/>
  <path d="M1691,258 C1674,226 1638,200 1590,200 C1530,202 1490,268 1440,292 C1425,299 1412,303 1400,305" fill="none" stroke="#6c6e70" stroke-width="6.3" stroke-linecap="round"/>
  <rect x="1385" y="270" width="30" height="60" fill="#fff"/><rect x="1414.5" y="270" width="55" height="60" fill="url(#fadeL)"/>
  <use href="#lapLower" transform="translate(1697.1,255.2) rotate(-16.3)"/>
  <use href="#lapUpper" transform="translate(1697.1,255.2) rotate(-16.3)"/>
  <use href="#surgLower" transform="translate(1891,788.6) rotate(29.3)"/>
  <use href="#surgUpper" transform="translate(1891,788.6) rotate(29.3)"/>
</g>
<!-- ===== LABELS ===== -->
<g font-size="35.5" fill="#000">
  <text x="1201" y="123" font-size="56" font-weight="700" text-anchor="middle" textLength="532" lengthAdjust="spacingAndGlyphs">Ovarian Cystectomy</text>
  <text x="356.5" y="468.4" textLength="93" lengthAdjust="spacingAndGlyphs">Video</text>
  <text x="325" y="510" textLength="123" lengthAdjust="spacingAndGlyphs">camera</text>
  <text x="144" y="768" textLength="212" lengthAdjust="spacingAndGlyphs">Laparoscope</text>
  <text x="886" y="808.4" textLength="134" lengthAdjust="spacingAndGlyphs">Surgical</text>
  <text x="886" y="850.7" textLength="185" lengthAdjust="spacingAndGlyphs">instrument</text>
  <text x="842" y="1069.3" textLength="205" lengthAdjust="spacingAndGlyphs">Ovarian cyst</text>
  <text x="1168.5" y="797.8" textLength="99" lengthAdjust="spacingAndGlyphs">Ovary</text>
  <text x="1159" y="862.5" textLength="112" lengthAdjust="spacingAndGlyphs">Vagina</text>
  <text x="1145.5" y="959.6" textLength="127" lengthAdjust="spacingAndGlyphs">Rectum</text>
  <text x="2057" y="725.5" textLength="151" lengthAdjust="spacingAndGlyphs">Fallopian</text>
  <text x="2058" y="766.9" textLength="75" lengthAdjust="spacingAndGlyphs">tube</text>
  <text x="2057" y="839.2" textLength="205" lengthAdjust="spacingAndGlyphs">Ovarian cyst</text>
  <text x="2056.5" y="884.4" textLength="113" lengthAdjust="spacingAndGlyphs">Uterus</text>
  <text x="1942" y="1323.6" fill="#7f7f7f" textLength="433" lengthAdjust="spacingAndGlyphs">© IHH Healthcare Singapore</text>
</g>
<g stroke="#fff" stroke-width="2.2" opacity="0.85" fill="none" transform="translate(1,2.6)">
  <path d="M456.5,461.7H521.8 M363.6,761.2H612 M789.7,799H878.4 M659.5,1059.5H835.6 M1275,791H1845.5 M1279.3,855.6H1566.7 M1279.3,952H1590.4 M1885.5,715.3H2050.5 M1885.5,829.1H2050.5 M1701,874.6H2050.5"/>
</g>
<g fill="#fff" opacity="0.85" transform="translate(2,2.5)">
  <circle cx="521.8" cy="461.7" r="5"/><circle cx="612" cy="761.2" r="5"/><circle cx="789.7" cy="799" r="5"/><circle cx="659.5" cy="1059.5" r="5"/>
  <circle cx="1845.5" cy="791.5" r="5"/><circle cx="1566.7" cy="856" r="5"/><circle cx="1590.4" cy="952.5" r="5"/>
  <circle cx="1885.5" cy="715.5" r="5"/><circle cx="1885.5" cy="829.5" r="5"/><circle cx="1701" cy="875" r="5"/>
</g>
<g stroke="#000" stroke-width="3" fill="none">
  <path d="M456.5,461.7H521.8 M363.6,761.2H612 M789.7,799H878.4 M659.5,1059.5H835.6 M1275,791H1845.5 M1279.3,855.6H1566.7 M1279.3,952H1590.4 M1885.5,715.3H2050.5 M1885.5,829.1H2050.5 M1701,874.6H2050.5"/>
</g>
<g fill="#000">
  <circle cx="521.8" cy="461.7" r="5.2"/><circle cx="612" cy="761.2" r="5.2"/><circle cx="789.7" cy="799" r="5.2"/><circle cx="659.5" cy="1059.5" r="5.2"/>
  <circle cx="1845.5" cy="791.5" r="5.2"/><circle cx="1566.7" cy="856" r="5.2"/><circle cx="1590.4" cy="952.5" r="5.2"/>
  <circle cx="1885.5" cy="715.5" r="5.2"/><circle cx="1885.5" cy="829.5" r="5.2"/><circle cx="1701" cy="875" r="5.2"/>
</g>
</svg>
</body></html>
